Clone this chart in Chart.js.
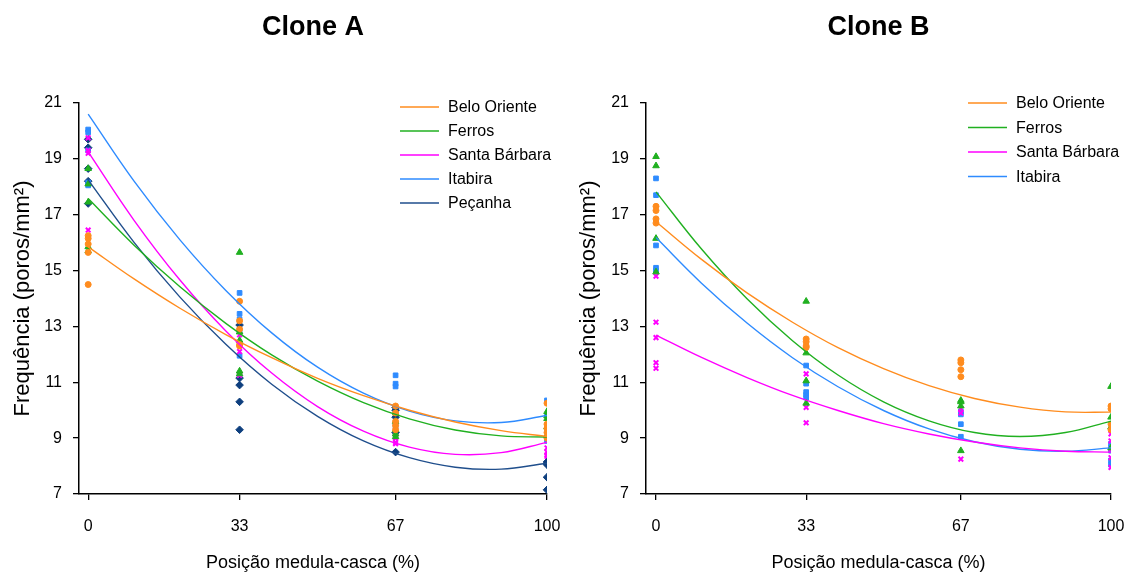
<!DOCTYPE html>
<html>
<head>
<meta charset="utf-8">
<script src="https://cdn.jsdelivr.net/npm/chart.js@4.4.1/dist/chart.umd.min.js"></script>
<style>
  html, body { margin: 0; padding: 0; background: #fff; }
  #wrap { position: relative; width: 1125px; height: 574px; }
  #cloneA { position: absolute; left: 0; top: 0; }
  #cloneB { position: absolute; left: 562px; top: 0; }
</style>
</head>
<body>
<div id="wrap">
  <canvas id="cloneA" width="562" height="574"></canvas>
  <canvas id="cloneB" width="563" height="574"></canvas>
</div>
<script>
// x positions (tick labels) and y tick labels
const positions = [0, 33, 67, 100];
const yTicks = [7, 9, 11, 13, 15, 17, 19, 21];
const curveX = [0, 10, 20, 30, 40, 50, 60, 70, 80, 90, 100];

// ---- Clone A: measured values, one inner array per position ----
const beloA    = [[16.25, 16.15, 15.95, 15.65, 14.5], [13.9, 13.2, 12.9, 12.35, 12.3], [10.15, 9.9, 9.6, 9.45, 9.3], [10.25, 9.5, 9.35, 9.2, 9.0]];
const ferrosA  = [[18.65, 18.1, 17.45, 15.85, 15.7], [15.65, 12.8, 12.5, 11.4, 11.3], [9.9, 9.6, 9.3, 9.15, 9.05], [9.95, 9.8, 9.7, 9.4, 9.1]];
const santaA   = [[19.75, 19.3, 19.2, 16.45], [12.7, 12.4, 12.1, 11.3, 11.25], [9.4, 9.2, 9.0, 8.85, 8.8], [9.1, 8.65, 8.5, 8.4, 8.35]];
const itabiraA = [[20.05, 19.95, 19.3, 18.15, 18.05], [14.2, 13.45, 13.25, 12.85, 11.95], [11.25, 10.95, 10.85, 9.55, 9.45], [10.35, 9.8, 9.3, 9.25, 8.9]];
const pecanhaA = [[19.7, 19.4, 18.65, 18.2, 17.4], [13.05, 11.15, 10.9, 10.3, 9.3], [10.1, 10.0, 9.75, 9.2, 8.5], [8.15, 8.1, 8.05, 7.6, 7.15]];

// Clone A fitted curves at curveX
const beloFitA    = [15.85, 14.70, 13.65, 12.71, 11.88, 11.14, 10.52, 10.00, 9.58, 9.27, 9.06];
const ferrosFitA  = [17.58, 15.91, 14.42, 13.11, 11.98, 11.04, 10.27, 9.69, 9.29, 9.08, 9.04];
const santaFitA   = [19.25, 16.80, 14.66, 12.84, 11.33, 10.13, 9.25, 8.68, 8.42, 8.48, 8.85];
const itabiraFitA = [20.60, 18.20, 16.10, 14.29, 12.77, 11.54, 10.61, 9.97, 9.62, 9.56, 9.81];
const pecanhaFitA = [18.25, 16.01, 14.05, 12.36, 10.93, 9.78, 8.90, 8.30, 7.96, 7.89, 8.10];

// ---- Clone B ----
const beloB    = [[17.3, 17.15, 16.85, 16.7], [12.55, 12.45, 12.3, 12.25], [11.8, 11.7, 11.45, 11.2], [10.15, 10.05, 9.5, 9.3]];
const ferrosB  = [[19.08, 18.75, 16.15, 14.95], [13.9, 12.05, 11.05, 10.25], [10.35, 10.3, 10.15, 8.55], [10.85, 9.75, 9.4, 8.65]];
const santaB   = [[14.8, 13.15, 12.6, 11.7, 11.5], [11.3, 10.1, 9.55], [10.05, 9.9, 8.25], [9.15, 8.9, 8.6, 8.3, 7.95]];
const itabiraB = [[18.3, 17.7, 15.9, 15.1, 15.0], [11.6, 10.95, 10.65, 10.55, 10.45], [9.95, 9.85, 9.5, 9.05], [8.8, 8.65, 8.55, 8.2, 8.05]];

const beloFitB    = [16.75, 15.40, 14.20, 13.15, 12.24, 11.49, 10.88, 10.42, 10.11, 9.94, 9.93];
const ferrosFitB  = [17.82, 15.77, 13.99, 12.49, 11.26, 10.30, 9.62, 9.20, 9.06, 9.20, 9.61];
const santaFitB   = [12.69, 11.89, 11.17, 10.53, 9.99, 9.52, 9.15, 8.86, 8.65, 8.53, 8.50];
const itabiraFitB = [16.18, 14.55, 13.12, 11.88, 10.84, 9.99, 9.33, 8.87, 8.60, 8.53, 8.65];

const FONT = 'Arial, "Liberation Sans", Helvetica, sans-serif';
Chart.defaults.font.family = FONT;
Chart.defaults.color = '#000';

const style = {
  'Belo Oriente':  { color: '#FF8C1E', point: 'circle',   r: 3.0 },
  'Ferros':        { color: '#20B020', point: 'triangle', r: 3.8 },
  'Santa Bárbara': { color: '#FF00FF', point: 'crossRot', r: 3.3 },
  'Itabira':       { color: '#2E8BFF', point: 'rect',     r: 3.3 },
  'Peçanha':       { color: '#0E3F7E', line: '#1F4E8C', point: 'rectRot', r: 3.8 }
};

function toPoints(groups) {
  const pts = [];
  groups.forEach((vals, i) => vals.forEach(v => pts.push({ x: positions[i], y: v })));
  return pts;
}

function buildDatasets(series) {
  const fits = series.map(([name, , fit]) => ({
    label: name,
    fit: true,
    data: fit.map((v, i) => ({ x: curveX[i], y: v })),
    showLine: true,
    tension: 0.4,
    borderColor: style[name].line || style[name].color,
    borderWidth: 1.4,
    pointRadius: 0
  }));
  const dots = series.map(([name, vals]) => ({
    label: name + ' obs',
    data: toPoints(vals),
    showLine: false,
    pointStyle: style[name].point,
    pointRadius: style[name].r,
    backgroundColor: style[name].color,
    borderColor: style[name].color,
    borderWidth: style[name].point === 'crossRot' ? 2 : 1
  }));
  return fits.concat(dots);
}

// panel title centred over the plot area, and a line legend inside it
const panelPlugin = {
  id: 'panel',
  afterDraw(chart, args, o) {
    const ctx = chart.ctx;
    const a = chart.chartArea;
    ctx.save();
    ctx.fillStyle = '#000';
    ctx.textBaseline = 'middle';
    ctx.textAlign = 'center';
    ctx.font = 'bold 27px ' + FONT;
    ctx.fillText(o.title, (a.left + a.right) / 2, o.titleY);
    ctx.textAlign = 'left';
    ctx.font = '16px ' + FONT;
    let y = o.legendY;
    chart.data.datasets.filter(d => d.fit).forEach(d => {
      ctx.strokeStyle = d.borderColor;
      ctx.lineWidth = 1.5;
      ctx.beginPath();
      ctx.moveTo(o.legendX, y);
      ctx.lineTo(o.legendX + 39, y);
      ctx.stroke();
      ctx.fillText(d.label, o.legendX + 48, y + 1);
      y += o.rowGap;
    });
    ctx.restore();
  }
};

function makeChart(id, series, p) {
  return new Chart(document.getElementById(id), {
    type: 'scatter',
    data: { datasets: buildDatasets(series) },
    plugins: [panelPlugin],
    options: {
      responsive: false,
      animation: false,
      devicePixelRatio: 1,
      layout: { padding: { top: 103, right: p.padRight, left: 0, bottom: 0 } },
      plugins: {
        legend: { display: false },
        tooltip: { enabled: false },
        panel: p.panel
      },
      scales: {
        x: {
          type: 'linear',
          min: p.xMin,
          max: 100,
          afterBuildTicks: s => { s.ticks = positions.map(v => ({ value: v })); },
          afterFit: s => { s.height = 80; s.paddingLeft = 0; s.paddingRight = 0; },
          grid: { drawOnChartArea: false, tickLength: 6, color: '#000', lineWidth: 1.3 },
          border: { color: '#000', width: 1.5 },
          ticks: { padding: 17, color: '#000', font: { size: 16 } },
          title: { display: true, text: 'Posição medula-casca (%)', color: '#000', font: { size: 18 }, padding: { top: 0, bottom: 0 } }
        },
        y: {
          min: 7,
          max: 21,
          afterBuildTicks: s => { s.ticks = yTicks.map(v => ({ value: v })); },
          afterFit: s => { s.width = p.yWidth; },
          grid: { drawOnChartArea: false, tickLength: 6, color: '#000', lineWidth: 1.3 },
          border: { color: '#000', width: 1.5 },
          ticks: { padding: 11, color: '#000', font: { size: 16 } },
          title: { display: true, text: 'Frequência (poros/mm²)', color: '#000', font: { size: 22 }, padding: { top: p.yTitlePad, bottom: 0 } }
        }
      }
    }
  });
}

makeChart('cloneA', [
  ['Belo Oriente', beloA, beloFitA],
  ['Ferros', ferrosA, ferrosFitA],
  ['Santa Bárbara', santaA, santaFitA],
  ['Itabira', itabiraA, itabiraFitA],
  ['Peçanha', pecanhaA, pecanhaFitA]
], {
  xMin: -2, yWidth: 79, padRight: 15, yTitlePad: 9.5,
  panel: { title: 'Clone A', titleY: 28, legendX: 400, legendY: 107, rowGap: 24 }
});

makeChart('cloneB', [
  ['Belo Oriente', beloB, beloFitB],
  ['Ferros', ferrosB, ferrosFitB],
  ['Santa Bárbara', santaB, santaFitB],
  ['Itabira', itabiraB, itabiraFitB]
], {
  xMin: -2.2, yWidth: 84, padRight: 14, yTitlePad: 14,
  panel: { title: 'Clone B', titleY: 28, legendX: 406, legendY: 103, rowGap: 24.5 }
});
</script>
</body>
</html>
